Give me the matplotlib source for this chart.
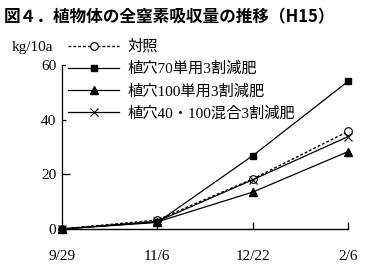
import matplotlib
matplotlib.use("Agg")
import matplotlib.pyplot as plt

plt.rcParams['font.family'] = ['Liberation Serif', 'Noto Sans CJK JP']

# 調査日と各区の全窒素吸収量 (kg/10a)
dates = ['9/29', '11/6', '12/22', '2/6']
control = [0, 3.3, 18.3, 35.7]
hole70 = [0, 2.4, 26.8, 54.0]
hole100 = [0, 2.6, 13.5, 28.3]
mixed = [0, 2.8, 18.0, 33.8]

fig = plt.figure(figsize=(3.77, 2.76), dpi=100)
ax = fig.add_axes([0.1645, 0.1703, 0.7586, 0.5942])

x = list(range(len(dates)))
ax.plot(x, control, color='black', lw=1.0, ls=(0, (2, 1.5)), marker='o',
        ms=5.5, mfc='white', mec='black', mew=0.8, label='対照', clip_on=False, zorder=3)
ax.plot(x, hole70, color='black', lw=0.9, marker='s', ms=4.8,
        label='植穴70単用3割減肥', clip_on=False, zorder=5)
ax.plot(x, hole100, color='black', lw=0.9, marker='^', ms=5.5,
        label='植穴100単用3割減肥', clip_on=False, zorder=3)
ax.plot(x, mixed, color='black', lw=0.9, marker='x', ms=5.5, mew=0.8,
        label='植穴40・100混合3割減肥', clip_on=False, zorder=3)

ax.set_xlim(0, 3)
ax.set_ylim(0, 60)
ax.set_xticks(x)
ax.set_xticklabels(dates)
ax.set_yticks([0, 20, 40, 60])
for s in ['top', 'right']:
    ax.spines[s].set_visible(False)
ax.spines['left'].set_linewidth(0.9)
ax.spines['bottom'].set_linewidth(1.0)
ax.tick_params(axis='y', direction='in', length=6, width=0.9, labelsize=11, pad=4)
ax.tick_params(axis='x', direction='in', length=5, width=0.9, labelsize=11, pad=15)

leg = ax.legend(loc='upper left', bbox_to_anchor=(66 / 377, 1 - 38 / 276),
                bbox_transform=fig.transFigure, frameon=True, fontsize=11,
                handlelength=3.4, handletextpad=0.55, labelspacing=0.52,
                borderpad=0.1, borderaxespad=0)
leg.get_frame().set_facecolor('white')
leg.get_frame().set_edgecolor('none')
leg.get_frame().set_alpha(1)

fig.text(12 / 377, 1 - 47 / 276, 'kg/10a', fontsize=11, va='center', ha='left')
fig.text(4 / 377, 1 - 17 / 276, '図４．植物体の全窒素吸収量の推移（H15）',
         fontsize=12, fontweight='bold', family=['Noto Sans CJK JP'],
         va='center', ha='left')

fig.savefig('out.png', dpi=100)
